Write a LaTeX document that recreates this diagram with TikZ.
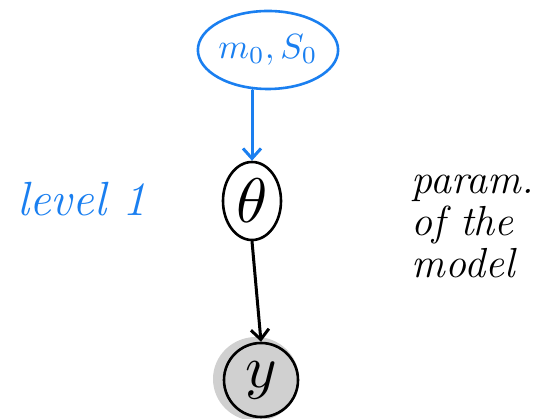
\documentclass[tikz,border=0pt]{standalone}
\usepackage{graphicx}
\usepackage{fontspec}
\usetikzlibrary{shapes.geometric,arrows.meta}
\definecolor{penblue}{HTML}{1A7FF0}
\definecolor{fillgray}{HTML}{D0D0D0}
\tikzset{
  pen/.style={line width=2.6pt, line cap=round, line join=round},
  rv/.style={pen, draw=black, ellipse, inner sep=0pt},
  conn/.style={line width=3pt, line cap=round, -{Straight Barb[length=10pt,width=18pt]}},
}
\begin{document}
\begin{tikzpicture}[x=1pt,y=1pt]
\useasboundingbox (0,0) rectangle (540,419);
% prior node
\node[rv, draw=penblue, minimum width=136pt, minimum height=78pt, text=penblue]
  (prior) at (268,369) {\scalebox{3.5}{$m_0,S_0$}};
% parameter node
\node[rv, minimum width=58pt, minimum height=78pt]
  (theta) at (252,218) {\scalebox{6.3}{$\theta$}};
% observed node with shadow
\fill[fillgray] (256,40) ellipse (43pt and 42pt);
\node[rv, fill=fillgray, circle, minimum size=74pt]
  (y) at (261,39) {\scalebox{6}{$y$}};
% connectors
\draw[conn, draw=penblue] (prior.south -| theta.north) -- (theta.north);
\draw[conn] (theta.south) -- (y.north);
% labels
\node[text=penblue, font=\fontsize{48}{54}\selectfont\itshape] (lvl) at (82,220) {level 1};
\node[align=left, font=\fontsize{42}{42}\selectfont\itshape] (par) at (473,193)
  {param.\\ of the\\ model};
\end{tikzpicture}
\end{document}
